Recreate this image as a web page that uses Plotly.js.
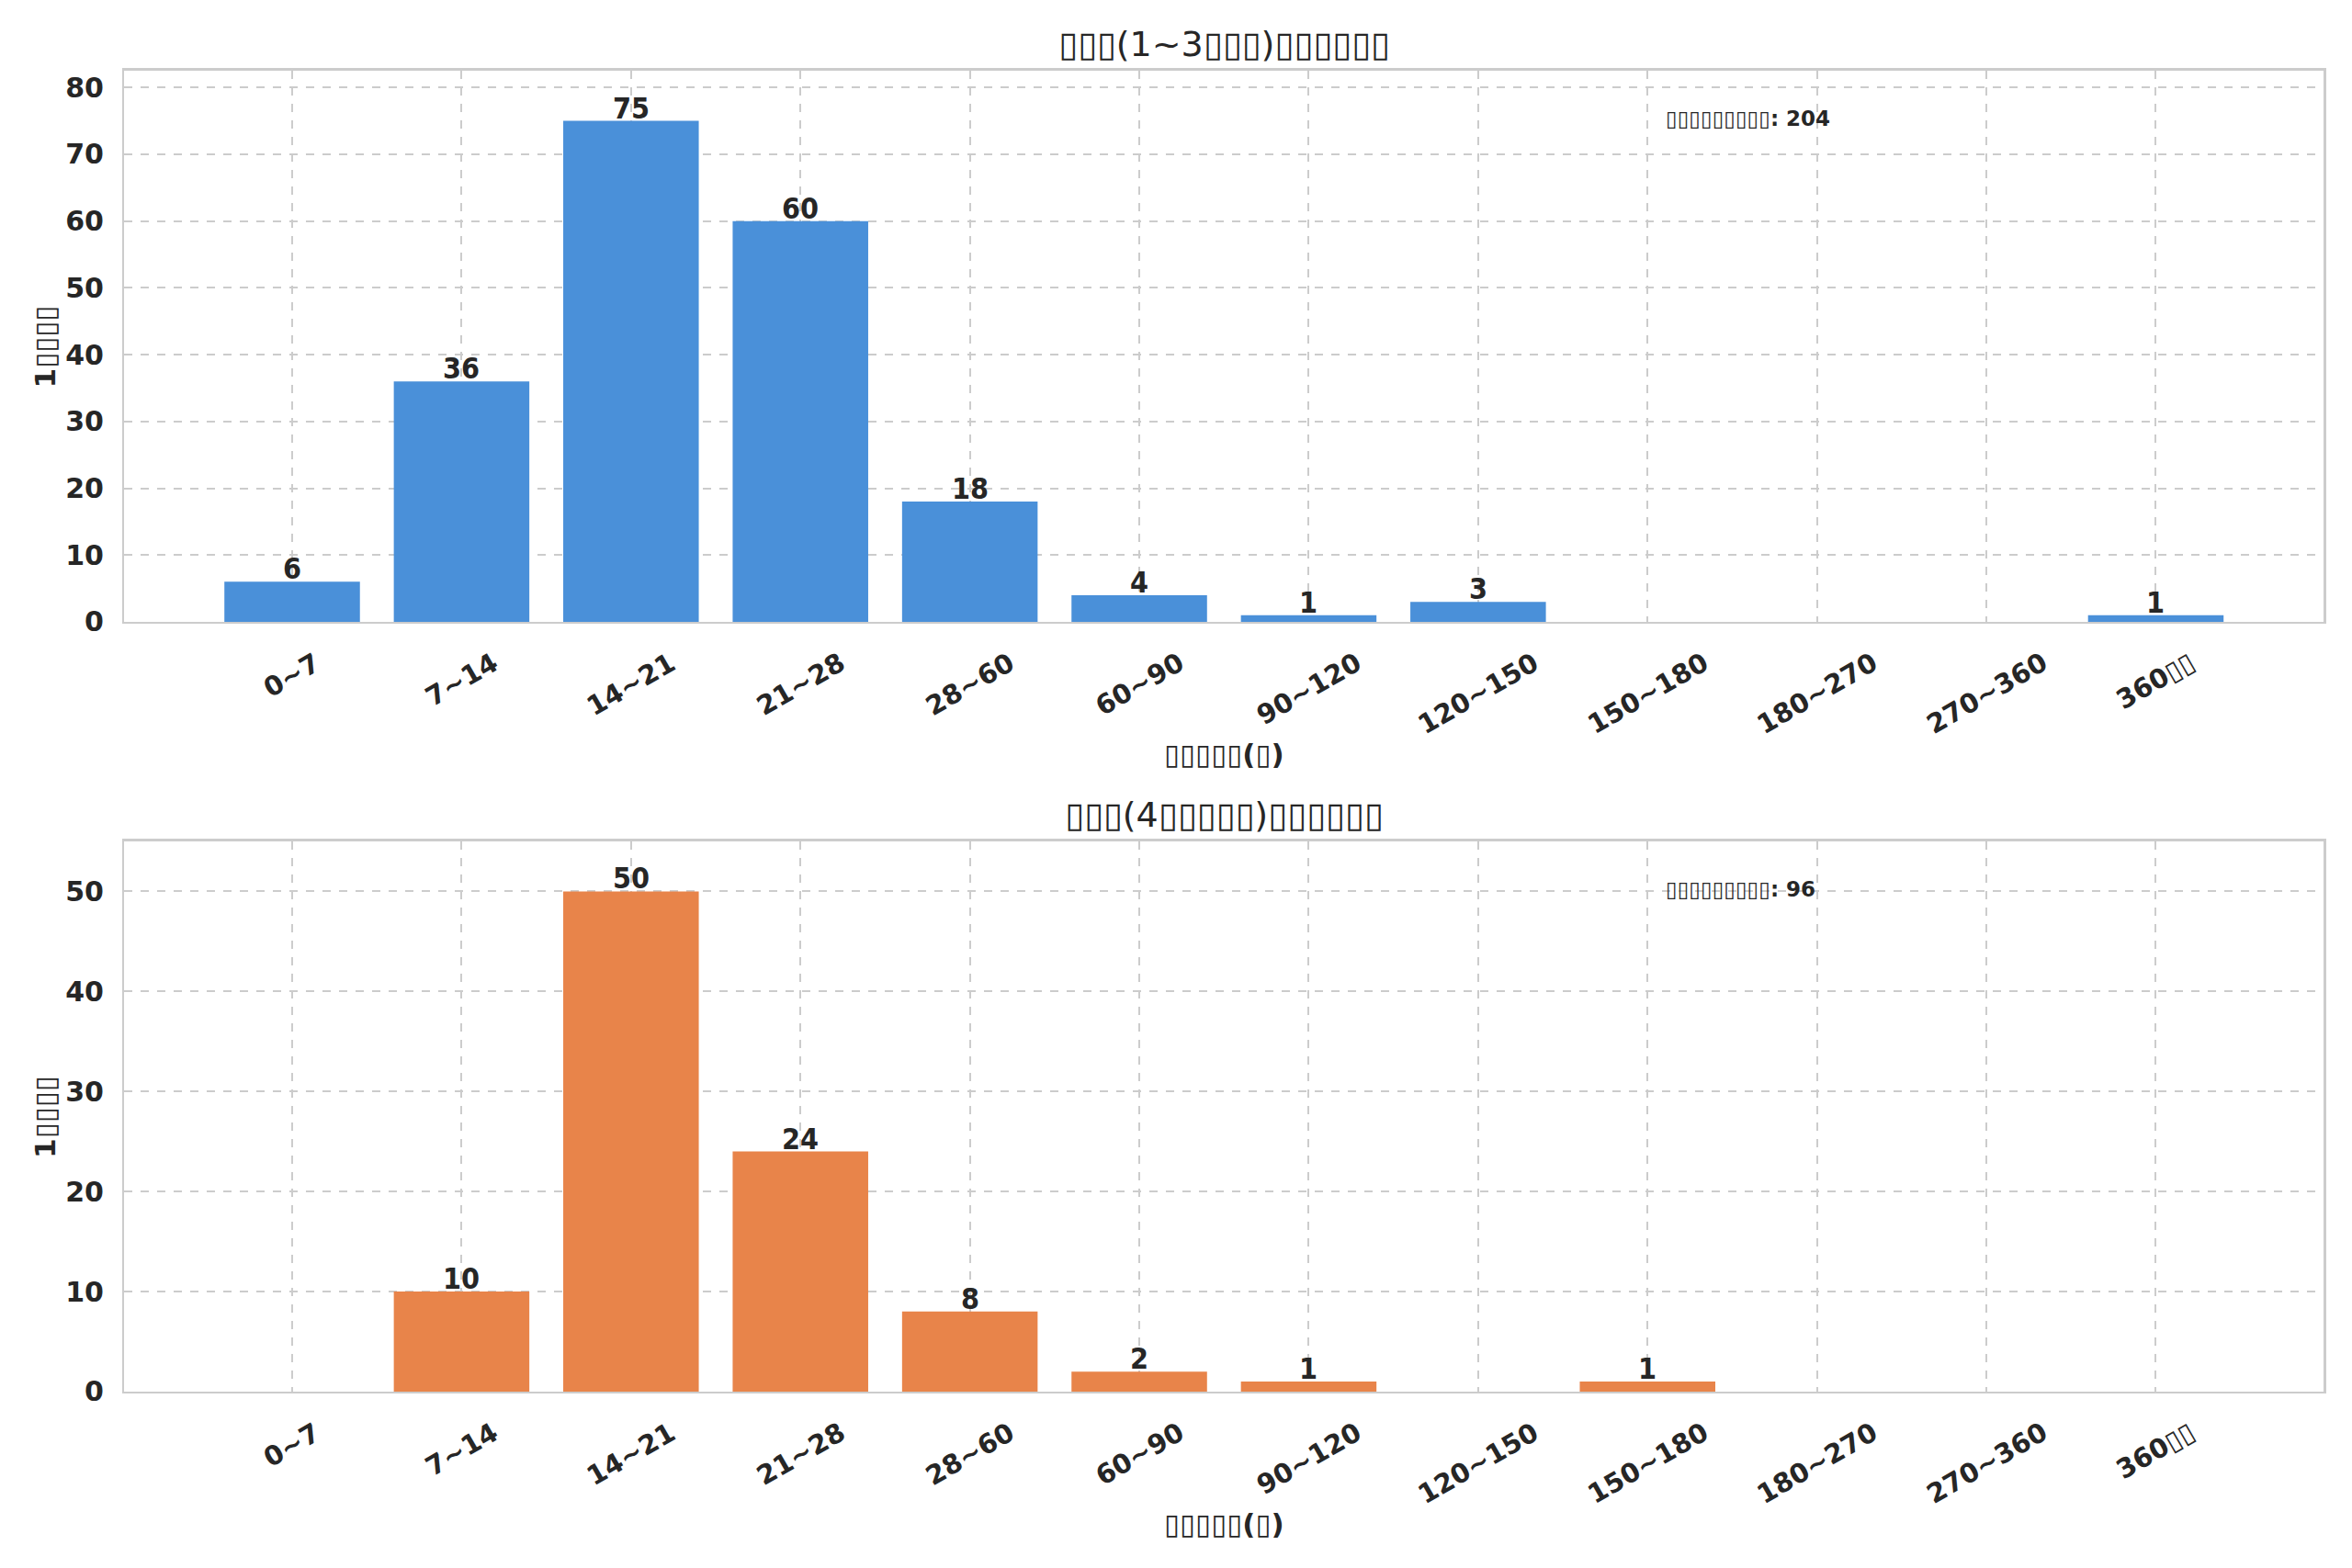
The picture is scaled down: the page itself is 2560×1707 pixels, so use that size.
<!DOCTYPE html>
<html>
<head>
<meta charset="utf-8">
<script src="https://cdn.plot.ly/plotly-3.0.1.min.js"></script>
<style>
  html, body { margin: 0; padding: 0; background: #fff; }
  #graph { width: 2560px; height: 1707px; }
</style>
</head>
<body>
<div id="graph"></div>
<script>
// interval buckets (days) - same for both panels
var bins = ['0~7', '7~14', '14~21', '21~28', '28~60', '60~90', '90~120',
            '120~150', '150~180', '180~270', '270~360', '360▯▯'];

// panel 1: 1~3 visits
var countsA = [6, 36, 75, 60, 18, 4, 1, 3, 0, 0, 0, 1];
// panel 2: 4+ visits
var countsB = [0, 10, 50, 24, 8, 2, 1, 0, 1, 0, 0, 0];

var titleA = '▯▯▯(1~3▯▯▯)▯▯▯▯▯▯';
var titleB = '▯▯▯(4▯▯▯▯▯)▯▯▯▯▯▯';
var xLabel = '▯▯▯▯▯(▯)';
var yLabel = '1▯▯▯▯';
var totalLabel = '▯▯▯▯▯▯▯▯▯';

var blue = '#4a90d9';
var orange = '#e8844a';
var ink = '#262626';
var FONT = 'DejaVu Sans, sans-serif';
var COND = 'DejaVu Sans Condensed, DejaVu Sans, sans-serif';

function total(arr) {
  var s = 0;
  for (var i = 0; i < arr.length; i++) s += arr[i];
  return s;
}

function barTrace(vals, color, xa, ya) {
  return {
    type: 'bar',
    x: bins,
    y: vals,
    xaxis: xa,
    yaxis: ya,
    width: 0.8,
    marker: {color: color, line: {width: 0}},
    hoverinfo: 'none'
  };
}

function xAxis(anchor) {
  return {
    domain: [0.0529, 0.9879],
    anchor: anchor,
    type: 'category',
    range: [-0.99, 11.99],
    showticklabels: false,
    showgrid: true,
    gridcolor: '#cccccc',
    gridwidth: 2,
    griddash: 'dash',
    showline: true,
    mirror: true,
    linecolor: '#cccccc',
    linewidth: 2.5,
    ticks: '',
    zeroline: false,
    fixedrange: true
  };
}

function yAxis(anchor, domain, top) {
  return {
    domain: domain,
    anchor: anchor,
    range: [0, top],
    dtick: 10,
    tick0: 0,
    showgrid: true,
    gridcolor: '#cccccc',
    gridwidth: 2,
    griddash: 'dash',
    showline: true,
    mirror: true,
    linecolor: '#cccccc',
    linewidth: 2.5,
    ticks: '',
    ticklabelstandoff: 14,
    zeroline: false,
    tickfont: {family: FONT, size: 30, color: ink, weight: 'bold'},
    fixedrange: true
  };
}

var anns = [];

function panelText(xr, yr, title, vals) {
  var xd = xr + ' domain', yd = yr + ' domain';
  anns.push({xref: xd, yref: yd, x: 0.5, y: 1, yshift: 29, xanchor: 'center', yanchor: 'middle',
    text: title, showarrow: false, font: {family: FONT, size: 38, color: ink}});
  anns.push({xref: xd, yref: yd, x: 0.5, y: 0, yshift: -144, xanchor: 'center', yanchor: 'middle',
    text: xLabel, showarrow: false, font: {family: FONT, size: 31, color: ink, weight: 'bold'}});
  anns.push({xref: xd, yref: yd, x: 0, y: 0.5, xshift: -86, xanchor: 'center', yanchor: 'middle',
    textangle: -90, text: yLabel, showarrow: false, font: {family: FONT, size: 31, color: ink, weight: 'bold'}});
  anns.push({xref: xd, yref: yd, x: 0.7, y: 0.913, xanchor: 'left', yanchor: 'middle',
    text: totalLabel + ': ' + total(vals), showarrow: false,
    font: {family: FONT, size: 23, color: ink, weight: 'bold'}});
  // rotated category labels, centred under each bar
  bins.forEach(function(b) {
    anns.push({xref: xr, yref: yd, x: b, y: 0, yshift: -24, xanchor: 'center', yanchor: 'top',
      textangle: -30, text: b, showarrow: false,
      font: {family: FONT, size: 29, color: ink, weight: 'bold'}});
  });
  // value labels sitting on top of the bars
  vals.forEach(function(v, i) {
    if (v <= 0) return;
    anns.push({xref: xr, yref: yr, x: bins[i], y: v, yshift: -7, xanchor: 'center', yanchor: 'bottom',
      text: String(v), showarrow: false,
      font: {family: COND, size: 32, color: ink, weight: 'bold'}});
  });
}

panelText('x', 'y', titleA, countsA);
panelText('x2', 'y2', titleB, countsB);

var data = [barTrace(countsA, blue, 'x', 'y'), barTrace(countsB, orange, 'x2', 'y2')];

var layout = {
  width: 2560,
  height: 1707,
  margin: {l: 0, r: 0, t: 0, b: 0},
  paper_bgcolor: '#ffffff',
  plot_bgcolor: '#ffffff',
  showlegend: false,
  font: {family: FONT, color: ink},
  xaxis: xAxis('y'),
  yaxis: yAxis('x', [0.6034, 0.9549], 82.5),
  xaxis2: xAxis('y2'),
  yaxis2: yAxis('x2', [0.1125, 0.4634], 55),
  annotations: anns
};

Plotly.newPlot('graph', data, layout, {displayModeBar: false, staticPlot: true});
</script>
</body>
</html>
